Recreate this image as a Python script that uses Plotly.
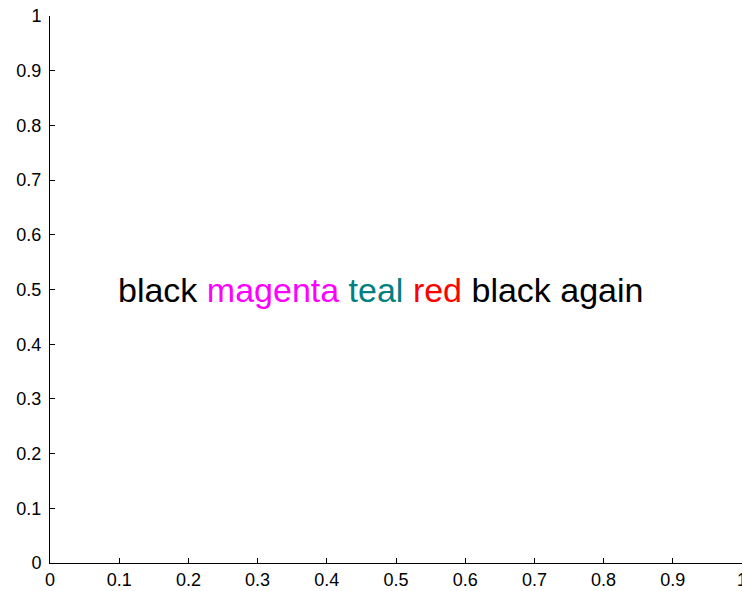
import plotly.graph_objects as go

words = ["black", "magenta", "teal", "red", "black again"]
word_colors = ["#000000", "#FF00FF", "#008080", "#FF0000", "#000000"]
text_x = 0.1
text_y = 0.5
tick_vals = [0, 0.1, 0.2, 0.3, 0.4, 0.5, 0.6, 0.7, 0.8, 0.9, 1]
tick_text = ["0", "0.1", "0.2", "0.3", "0.4", "0.5", "0.6", "0.7", "0.8", "0.9", "1"]

rich = " ".join(f'<span style="color:{c}">{w}</span>' for w, c in zip(words, word_colors))

fig = go.Figure()
fig.add_trace(go.Scatter(x=[None], y=[None], showlegend=False, hoverinfo="skip"))

fig.add_annotation(x=text_x, y=text_y, xref="x", yref="y", text=rich,
                   showarrow=False, xanchor="left", yanchor="middle", borderpad=0, xshift=-2,
                   font=dict(family="Liberation Sans, Arial, sans-serif", size=34, color="#000000"))

axis_common = dict(range=[0, 1], tickvals=tick_vals, ticktext=tick_text,
                   ticks="inside", ticklen=5, tickwidth=1, tickcolor="#000000",
                   showline=True, linecolor="#000000", linewidth=1,
                   showgrid=False, zeroline=False, mirror=False, automargin=False,
                   tickfont=dict(family="Liberation Sans, Arial, sans-serif", size=18, color="#000000"))

fig.update_xaxes(**axis_common, ticklabelstandoff=0)
fig.update_yaxes(**axis_common, ticklabelstandoff=4)

fig.update_layout(width=752, height=591,
                  margin=dict(l=50, r=10, t=16, b=28, pad=0),
                  plot_bgcolor="white", paper_bgcolor="white",
                  showlegend=False)

fig.write_html("out.html", config={"displayModeBar": False},
               post_script="document.body.style.margin='0';document.body.style.overflow='hidden';")
